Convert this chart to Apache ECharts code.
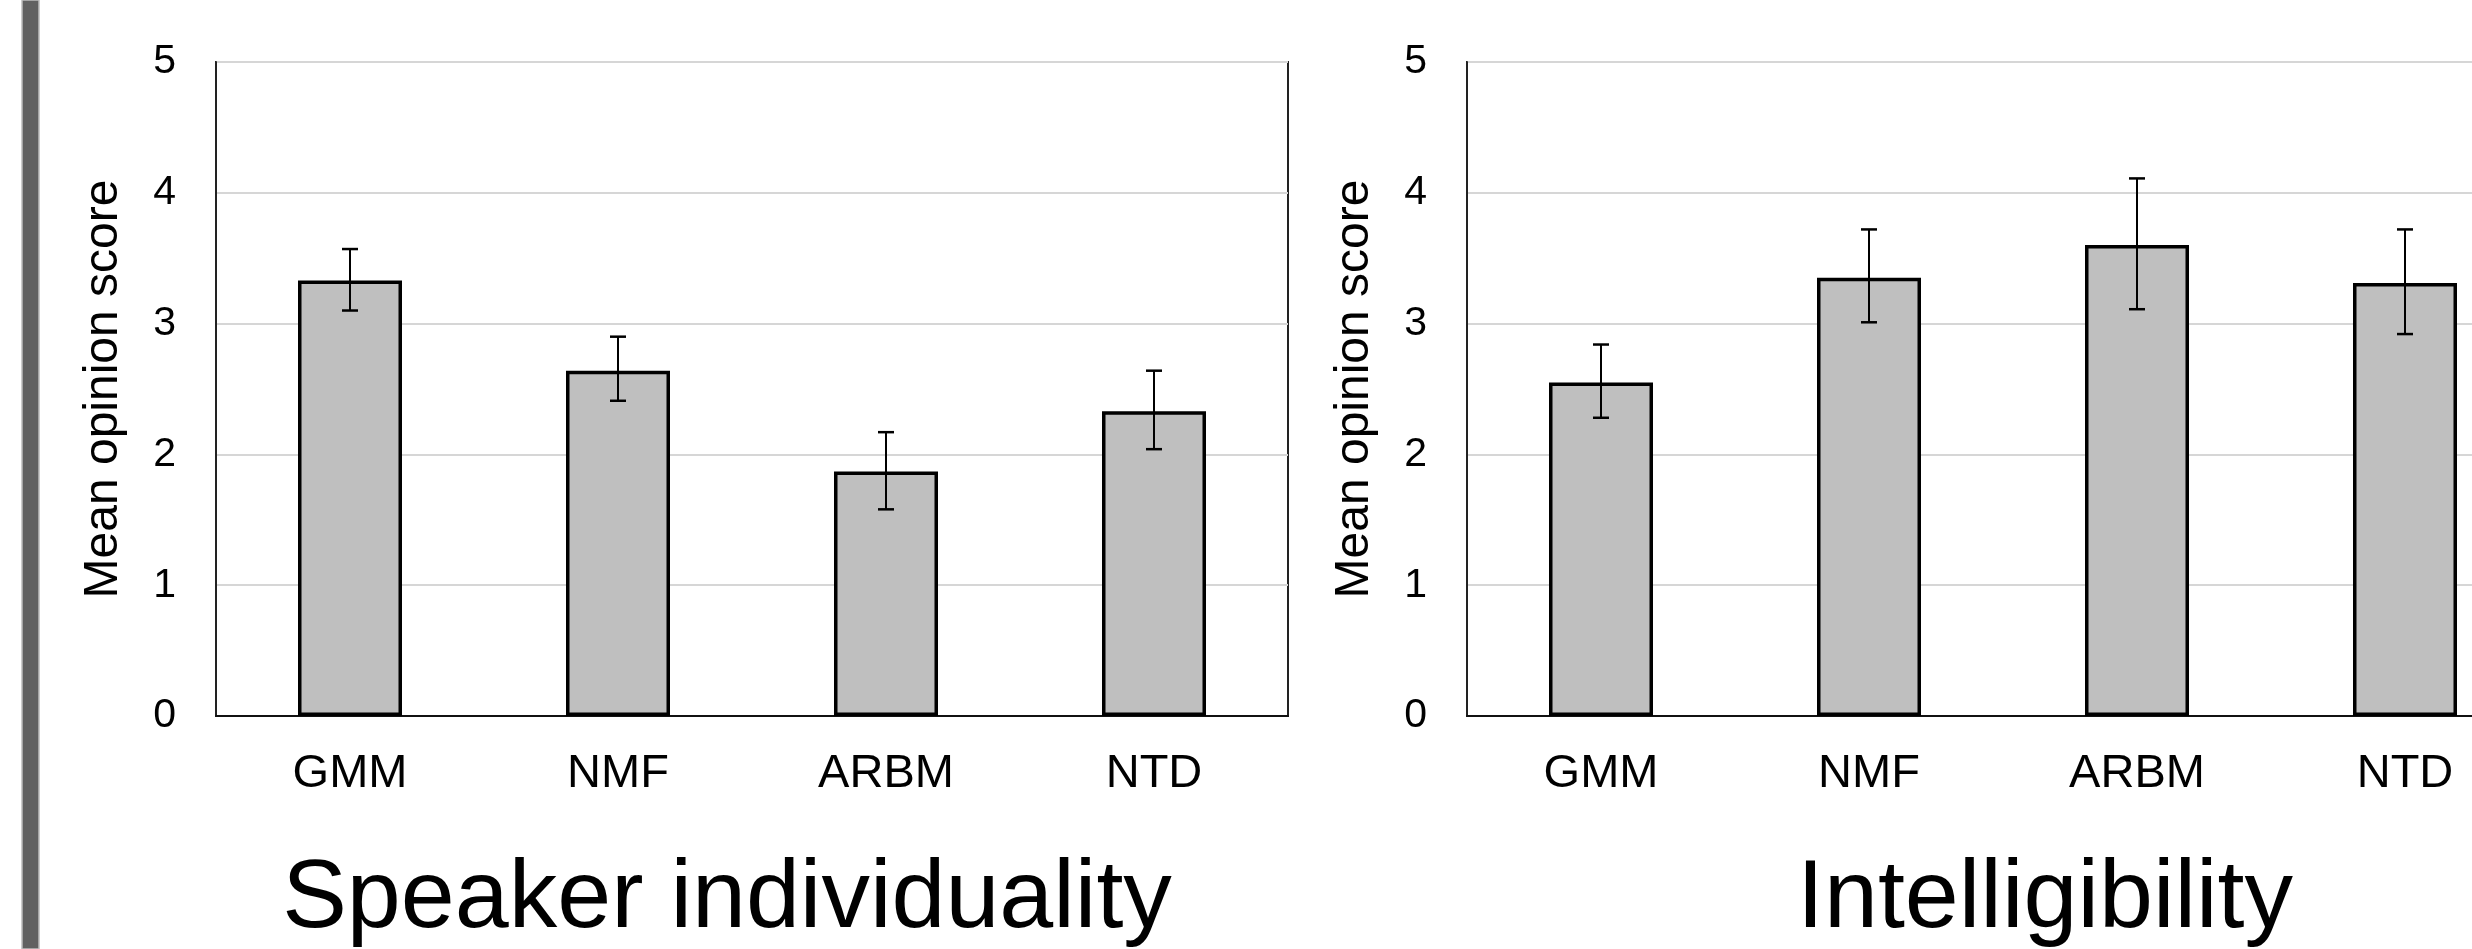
<!DOCTYPE html>
<html>
<head>
<meta charset="utf-8">
<script src="https://cdn.jsdelivr.net/npm/echarts@6/dist/echarts.min.js"></script>
<style>
html,body{margin:0;padding:0;background:#fff;overflow:hidden;width:2472px;height:949px;}
#c{width:2600px;height:949px;}
</style>
</head>
<body>
<div id="c"></div>
<script>
const categories = ['GMM', 'NMF', 'ARBM', 'NTD'];
const yTicks = [0, 1, 2, 3, 4, 5];
const yAxisName = 'Mean opinion score';

const speakerTitle = 'Speaker individuality';
const speakerMean  = [3.33, 2.64, 1.87, 2.33];
const speakerUpper = [3.57, 2.90, 2.17, 2.64];
const speakerLower = [3.10, 2.41, 1.58, 2.04];

const intelTitle = 'Intelligibility';
const intelMean  = [2.55, 3.35, 3.60, 3.31];
const intelUpper = [2.84, 3.72, 4.11, 3.72];
const intelLower = [2.28, 3.01, 3.11, 2.92];

const FONT = '"Liberation Sans", Arial, Helvetica, sans-serif';
const chart = echarts.init(document.getElementById('c'), null, {renderer: 'canvas'});

function errData(lo, hi) {
  return categories.map((c, i) => [i, lo[i], hi[i]]);
}
function errRender(params, api) {
  const x = api.value(0);
  const pLo = api.coord([x, api.value(1)]);
  const pHi = api.coord([x, api.value(2)]);
  const hw = 8;
  const st = {stroke: '#000', lineWidth: 2};
  const capSt = {stroke: '#000', lineWidth: 2.5};
  return {
    type: 'group',
    children: [
      {type: 'line', shape: {x1: pLo[0], y1: pLo[1], x2: pHi[0], y2: pHi[1]}, style: st},
      {type: 'line', shape: {x1: pHi[0] - hw, y1: pHi[1], x2: pHi[0] + hw, y2: pHi[1]}, style: capSt},
      {type: 'line', shape: {x1: pLo[0] - hw, y1: pLo[1], x2: pLo[0] + hw, y2: pLo[1]}, style: capSt}
    ]
  };
}

const grids = [
  {left: 216, top: 62, width: 1072, height: 654, show: true, borderColor: '#222', borderWidth: 2, backgroundColor: 'transparent', outerBoundsMode: 'none'},
  {left: 1467, top: 62, width: 1072, height: 654, show: true, borderColor: '#222', borderWidth: 2, backgroundColor: 'transparent', outerBoundsMode: 'none'}
];

function xAxis(gi) {
  return {
    type: 'category', gridIndex: gi, data: categories,
    axisLine: {show: true, lineStyle: {color: '#111', width: 2}},
    axisTick: {show: false},
    axisLabel: {fontSize: 47, color: '#000', fontFamily: FONT, margin: 35},
    splitLine: {show: false}
  };
}
function yAxis(gi) {
  return {
    type: 'value', gridIndex: gi, min: yTicks[0], max: yTicks[yTicks.length - 1], interval: 1,
    name: yAxisName, nameLocation: 'middle', nameRotate: 90, nameGap: 88,
    nameTextStyle: {fontSize: 48, color: '#000', fontFamily: FONT},
    axisLine: {show: true, lineStyle: {color: '#222', width: 2}},
    axisTick: {show: false},
    axisLabel: {fontSize: 41, color: '#000', fontFamily: FONT, margin: 40},
    splitLine: {show: true, lineStyle: {color: '#d6d6d6', width: 2}}
  };
}
function barSeries(gi, data) {
  return {
    type: 'bar', xAxisIndex: gi, yAxisIndex: gi, data: data, barWidth: 104,
    itemStyle: {color: '#bfbfbf', borderColor: '#000', borderWidth: 3.5},
    z: 2, silent: true
  };
}
function errSeries(gi, lo, hi) {
  return {
    type: 'custom', xAxisIndex: gi, yAxisIndex: gi, data: errData(lo, hi),
    renderItem: errRender, z: 5, silent: true, clip: false
  };
}

chart.setOption({
  animation: false,
  backgroundColor: '#fff',
  grid: grids,
  xAxis: [xAxis(0), xAxis(1)],
  yAxis: [yAxis(0), yAxis(1)],
  series: [
    barSeries(0, speakerMean), errSeries(0, speakerLower, speakerUpper),
    barSeries(1, intelMean), errSeries(1, intelLower, intelUpper)
  ],
  graphic: [
    {type: 'rect', shape: {x: 22, y: 0, width: 17, height: 949},
     style: {fill: '#616161', stroke: '#bdbdbd', lineWidth: 1.5}, z: 10},
    {type: 'text', x: 727, y: 900, z: 10,
     style: {text: speakerTitle, fontSize: 97, fontFamily: FONT, fill: '#000', align: 'center', verticalAlign: 'middle'}},
    {type: 'text', x: 2045, y: 900, z: 10,
     style: {text: intelTitle, fontSize: 97, fontFamily: FONT, fill: '#000', align: 'center', verticalAlign: 'middle'}}
  ]
});
</script>
</body>
</html>
